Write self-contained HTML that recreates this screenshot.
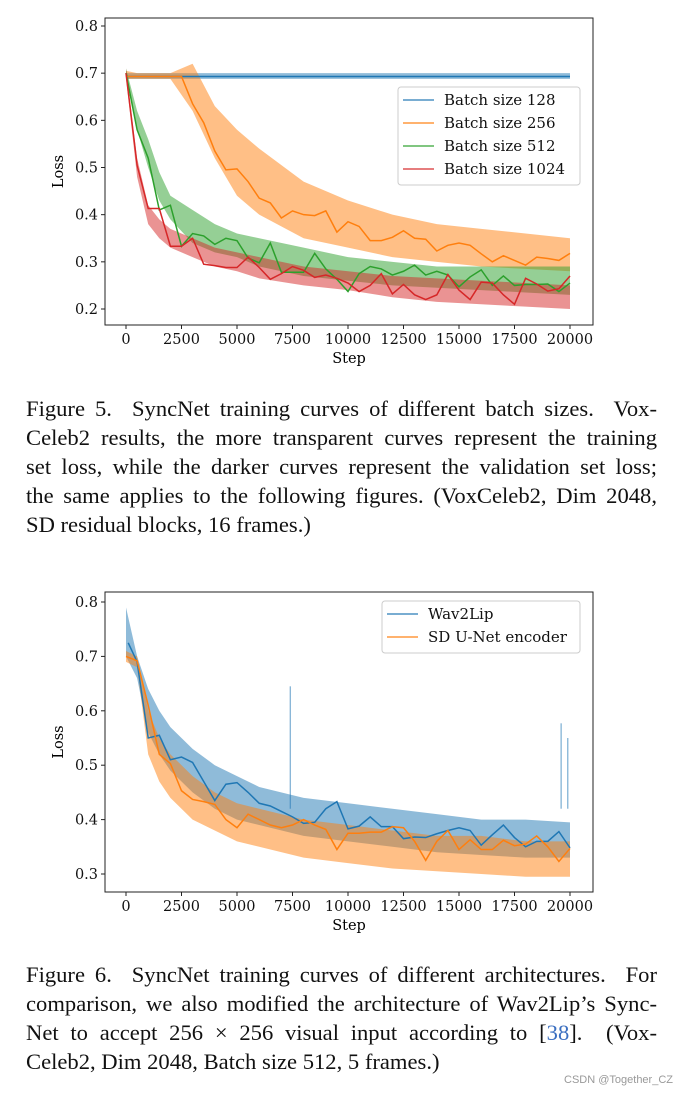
<!DOCTYPE html>
<html><head><meta charset="utf-8"><style>
body{margin:0;width:677px;height:1094px;background:#fff;position:relative;overflow:hidden;font-family:"Liberation Serif",serif;}
svg{position:absolute;left:0;}
.cap{position:absolute;left:26px;width:631px;font-size:22.6px;line-height:29px;color:#111;}
.cap div{text-align:justify;text-align-last:justify;white-space:nowrap;}
.cap div.last{text-align-last:left;}
.wm{position:absolute;right:4px;top:1074px;font-size:11px;color:#999;font-family:"Liberation Sans",sans-serif;}
</style></head><body>
<svg id="fig5" width="677" height="380" style="top:0"></svg>
<svg id="fig6" width="677" height="380" style="top:580px"></svg>
<div class="cap" style="top:394px">
<div>Figure 5.&nbsp; SyncNet training curves of different batch sizes.&nbsp; Vox-</div>
<div>Celeb2 results, the more transparent curves represent the training</div>
<div>set loss, while the darker curves represent the validation set loss;</div>
<div>the same applies to the following figures. (VoxCeleb2, Dim 2048,</div>
<div class="last">SD residual blocks, 16 frames.)</div>
</div>
<div class="cap" style="top:960px">
<div>Figure 6.&nbsp; SyncNet training curves of different architectures.&nbsp; For</div>
<div>comparison, we also modified the architecture of Wav2Lip’s Sync-</div>
<div>Net to accept 256 × 256 visual input according to [<span style="color:#3b6fc0">38</span>].&nbsp; (Vox-</div>
<div class="last">Celeb2, Dim 2048, Batch size 512, 5 frames.)</div>
</div>
<div class="wm">CSDN @Together_CZ</div>
<script>
const xTicks=[0,2500,5000,7500,10000,12500,15000,17500,20000];
const valSteps=[0,500,1000,1500,2000,2500,3000,3500,4000,4500,5000,5500,6000,6500,7000,7500,8000,8500,9000,9500,10000,10500,11000,11500,12000,12500,13000,13500,14000,14500,15000,15500,16000,16500,17000,17500,18000,18500,19000,19500,20000];
const bandSteps=[0,500,1000,1500,2000,3000,4000,5000,6000,8000,10000,12000,14000,16000,18000,20000];
// Figure 5
const f5yTicks=[0.2,0.3,0.4,0.5,0.6,0.7,0.8];
const f5Labels=["Batch size 128","Batch size 256","Batch size 512","Batch size 1024"];
const val128=valSteps.map(()=>0.693);
const val256=[0.693,0.693,0.693,0.693,0.693,0.693,0.635,0.595,0.535,0.495,0.497,0.47,0.435,0.425,0.393,0.408,0.4,0.398,0.408,0.363,0.385,0.375,0.345,0.345,0.352,0.366,0.35,0.348,0.323,0.335,0.34,0.335,0.317,0.3,0.313,0.303,0.293,0.31,0.307,0.303,0.318];
const val512=[0.7,0.58,0.52,0.41,0.42,0.333,0.36,0.355,0.337,0.35,0.345,0.308,0.298,0.34,0.278,0.278,0.278,0.318,0.285,0.263,0.237,0.275,0.29,0.285,0.272,0.28,0.293,0.272,0.28,0.272,0.247,0.268,0.283,0.25,0.27,0.25,0.252,0.252,0.253,0.237,0.255];
const val1024=[0.7,0.505,0.413,0.413,0.333,0.333,0.35,0.295,0.292,0.288,0.288,0.31,0.288,0.263,0.275,0.29,0.282,0.267,0.272,0.265,0.255,0.237,0.25,0.275,0.232,0.252,0.23,0.22,0.23,0.273,0.24,0.22,0.257,0.255,0.23,0.21,0.265,0.253,0.238,0.243,0.27];
const tr128Up=bandSteps.map(()=>0.70), tr128Lo=bandSteps.map(()=>0.688);
const tr256Up=[0.705,0.70,0.70,0.70,0.70,0.72,0.63,0.58,0.54,0.47,0.43,0.40,0.38,0.37,0.36,0.35];
const tr256Lo=[0.688,0.688,0.688,0.688,0.688,0.62,0.52,0.44,0.40,0.35,0.33,0.31,0.30,0.29,0.285,0.28];
const tr512Up=[0.71,0.62,0.56,0.49,0.44,0.41,0.38,0.36,0.35,0.33,0.31,0.30,0.29,0.29,0.29,0.29];
const tr512Lo=[0.69,0.58,0.50,0.43,0.39,0.34,0.32,0.31,0.29,0.27,0.26,0.25,0.245,0.24,0.235,0.23];
const tr1024Up=[0.71,0.52,0.42,0.39,0.37,0.35,0.33,0.32,0.31,0.29,0.28,0.27,0.265,0.26,0.255,0.25];
const tr1024Lo=[0.69,0.48,0.38,0.35,0.33,0.31,0.29,0.28,0.265,0.25,0.24,0.225,0.215,0.21,0.205,0.20];
// Figure 6
const f6yTicks=[0.3,0.4,0.5,0.6,0.7,0.8];
const f6Labels=["Wav2Lip","SD U-Net encoder"];
const w2lSteps=[100,500,1000,1500,2000,2500,3000,3500,4000,4500,5000,5500,6000,6500,7000,7500,8000,8500,9000,9500,10000,10500,11000,11500,12000,12500,13000,13500,14000,14500,15000,15500,16000,16500,17000,17500,18000,18500,19000,19500,20000];
const valW2L=[0.725,0.69,0.55,0.555,0.51,0.515,0.505,0.47,0.435,0.465,0.468,0.45,0.43,0.425,0.415,0.405,0.393,0.395,0.42,0.433,0.383,0.388,0.405,0.387,0.387,0.365,0.368,0.367,0.374,0.38,0.385,0.38,0.353,0.372,0.39,0.367,0.35,0.36,0.36,0.378,0.348];
const valSD=[0.70,0.692,0.61,0.52,0.503,0.453,0.437,0.433,0.428,0.4,0.385,0.41,0.4,0.39,0.385,0.39,0.4,0.39,0.382,0.345,0.375,0.375,0.377,0.377,0.387,0.385,0.36,0.325,0.36,0.38,0.345,0.363,0.345,0.345,0.362,0.352,0.355,0.37,0.35,0.323,0.347];
const trW2LUp=[0.79,0.70,0.64,0.60,0.57,0.53,0.50,0.48,0.46,0.44,0.43,0.42,0.41,0.40,0.40,0.395];
const trW2LLo=[0.70,0.66,0.56,0.52,0.49,0.45,0.42,0.40,0.39,0.37,0.36,0.35,0.34,0.335,0.33,0.33];
const trSDUp=[0.71,0.70,0.60,0.55,0.52,0.48,0.45,0.43,0.42,0.40,0.39,0.38,0.37,0.37,0.36,0.36];
const trSDLo=[0.69,0.68,0.52,0.47,0.44,0.40,0.38,0.36,0.35,0.33,0.32,0.31,0.305,0.30,0.295,0.295];
const spikeSteps=[7400,19600,19900], spikeVals=[0.645,0.577,0.55];

const NS="http://www.w3.org/2000/svg";
function mk(svg,tag,attrs){const e=document.createElementNS(NS,tag);for(const k in attrs)e.setAttribute(k,attrs[k]);svg.appendChild(e);return e;}
function chart(svg,yTop,yBot,y0v,y0p,y1v,y1p,yTicks){
  const X=s=>126+(s/20000)*(570-126);
  const Y=v=>y0p+(v-y0v)*(y1p-y0p)/(y1v-y0v);
  const frame=mk(svg,'rect',{x:105,y:yTop,width:488,height:yBot-yTop,fill:'none',stroke:'#222','stroke-width':1});
  
  xTicks.forEach(t=>{mk(svg,'line',{x1:X(t),x2:X(t),y1:yBot,y2:yBot+4,stroke:'#222'});
    const tx=mk(svg,'text',{x:X(t),y:yBot+19,'text-anchor':'middle','font-size':14.5,'font-family':'DejaVu Serif,serif',fill:'#111'});tx.textContent=t;
    });
  yTicks.forEach(t=>{mk(svg,'line',{x1:101,x2:105,y1:Y(t),y2:Y(t),stroke:'#222'});
    const tx=mk(svg,'text',{x:98,y:Y(t)+5,'text-anchor':'end','font-size':14.5,'font-family':'DejaVu Serif,serif',fill:'#111'});tx.textContent=t.toFixed(1);
    });
  const xl=mk(svg,'text',{x:349,y:yBot+38,'text-anchor':'middle','font-size':14.5,'font-family':'DejaVu Serif,serif'});xl.textContent='Step';
  
  const ym=(yTop+yBot)/2;
  const yl=mk(svg,'text',{x:63,y:ym,'text-anchor':'middle','font-size':14.5,'font-family':'DejaVu Serif,serif',transform:`rotate(-90 63 ${ym})`});yl.textContent='Loss';
  
  return {X,Y};
}
function band(svg,ax,up,lo,color,name){
  let d='M'+bandSteps.map((s,i)=>ax.X(s)+','+ax.Y(up[i])).join('L');
  d+='L'+bandSteps.slice().reverse().map((s,i)=>ax.X(s)+','+ax.Y(lo[lo.length-1-i])).join('L')+'Z';
  const p=mk(svg,'path',{d,fill:color,'fill-opacity':0.5,stroke:'none'});
  
}
function line(svg,ax,steps,vals,color,name){
  const pts=steps.map((s,i)=>ax.X(s)+','+ax.Y(vals[i]));
  const p=mk(svg,'polyline',{points:pts.join(' '),fill:'none',stroke:color,'stroke-width':1.5});
  
}
function legend(svg,x,y,w,labels,colors,name){
  const r=mk(svg,'rect',{x,y,width:w,height:labels.length*23+6,rx:3,fill:'#fff','fill-opacity':0.85,stroke:'#ccc'});
  
  labels.forEach((l,i)=>{const cy=y+13+i*23;
    mk(svg,'line',{x1:x+5,x2:x+36,y1:cy,y2:cy,stroke:colors[i],'stroke-width':2,'stroke-opacity':0.6});
    const t=mk(svg,'text',{x:x+46,y:cy+5,'font-size':15,'font-family':'DejaVu Serif,serif',fill:'#111'});t.textContent=l;
    });
}
const C=['#1f77b4','#ff7f0e','#2ca02c','#d62728'];
// fig5
const s5=document.getElementById('fig5');
const a5=chart(s5,18,325,0.2,309,0.8,26,f5yTicks);
band(s5,a5,tr128Up,tr128Lo,C[0],'train-band-128');
band(s5,a5,tr256Up,tr256Lo,C[1],'train-band-256');
band(s5,a5,tr512Up,tr512Lo,C[2],'train-band-512');
band(s5,a5,tr1024Up,tr1024Lo,C[3],'train-band-1024');
line(s5,a5,valSteps,val128,C[0],'val-line-128');
line(s5,a5,valSteps,val256,C[1],'val-line-256');
line(s5,a5,valSteps,val512,C[2],'val-line-512');
line(s5,a5,valSteps,val1024,C[3],'val-line-1024');
legend(s5,398,87,182,f5Labels,C,'legend');
// fig6
const s6=document.getElementById('fig6');
const a6=chart(s6,12,312,0.3,294,0.8,22,f6yTicks);
band(s6,a6,trW2LUp,trW2LLo,C[0],'train-band-wav2lip');
band(s6,a6,trSDUp,trSDLo,C[1],'train-band-sd-unet');
spikeSteps.forEach((s,i)=>{const l=mk(s6,'line',{x1:a6.X(s),x2:a6.X(s),y1:a6.Y(0.42),y2:a6.Y(spikeVals[i]),stroke:C[0],'stroke-opacity':0.6,'stroke-width':1.2});
  });
line(s6,a6,w2lSteps,valW2L,C[0],'val-line-wav2lip');
line(s6,a6,valSteps,valSD,C[1],'val-line-sd-unet');
legend(s6,382,21,198,f6Labels,[C[0],C[1]],'legend');
</script>
</body></html>
